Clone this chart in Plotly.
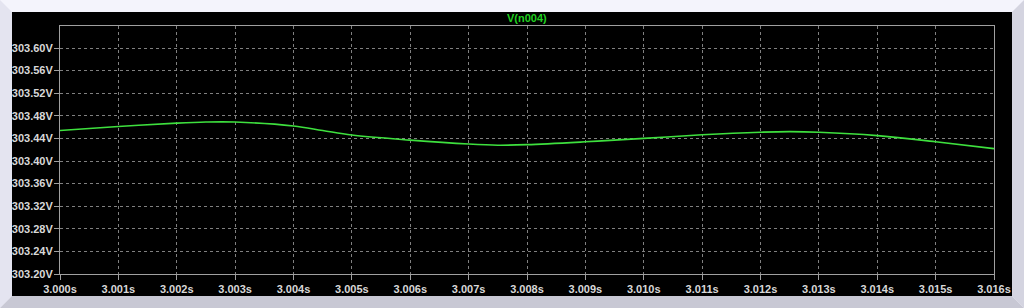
import plotly.graph_objects as go

# ---- data ----
time_s = [3.000, 3.001, 3.002, 3.0025, 3.003, 3.004, 3.0045, 3.005, 3.006, 3.007,
          3.0075, 3.008, 3.009, 3.010, 3.011, 3.012, 3.0125, 3.013, 3.014, 3.015, 3.016]
v_n004 = [303.454, 303.461, 303.467, 303.469, 303.469, 303.462, 303.454, 303.446, 303.437, 303.430,
          303.428, 303.429, 303.434, 303.440, 303.4465, 303.451, 303.452, 303.451, 303.445, 303.434, 303.422]

x_ticks = [3.000 + 0.001 * i for i in range(17)]
x_tick_labels = ["%.3fs" % v for v in x_ticks]
y_ticks = [303.20 + 0.04 * i for i in range(11)]
y_tick_labels = ["%.2fV" % v for v in y_ticks]
trace_name = "V(n004)"

# ---- geometry ----
W, H = 1024, 308
L, R, T, B = 60, 30, 26, 34
pw, ph = W - L - R, H - T - B


def px(x):
    return (x - L) / pw


def py(y):
    return (H - B - y) / ph


def poly(points, color):
    path = "M " + " L ".join("%f,%f" % (px(a), py(b)) for a, b in points) + " Z"
    return dict(type="path", xref="paper", yref="paper", path=path,
                fillcolor=color, line=dict(width=0), layer="below")


shapes = [
    poly([(0, 0), (12, 12), (12, 296), (0, 308)], "#e4e4f0"),
    poly([(0, 308), (12, 296), (1012, 296), (1024, 308)], "#c8c8d4"),
    poly([(1024, 0), (1012, 12), (1012, 296), (1024, 308)], "#d4d4e0"),
    poly([(12, 12), (1012, 12), (1012, 296), (12, 296)], "#000000"),
]

fig = go.Figure()
fig.add_trace(go.Scatter(
    x=time_s, y=v_n004, mode="lines", name=trace_name,
    line=dict(color="#3ee03e", width=1.6, shape="spline", smoothing=1.0),
    hoverinfo="x+y", showlegend=False,
))

tick_font = dict(family="Liberation Sans", size=11, color="#d8d8d8", weight="bold")

fig.update_layout(
    width=W, height=H,
    margin=dict(l=L, r=R, t=T, b=B, pad=0),
    paper_bgcolor="#f4f4fc",
    plot_bgcolor="#000000",
    shapes=shapes,
    annotations=[dict(
        text=trace_name, xref="paper", yref="paper",
        x=0.5, y=py(18), xanchor="center", yanchor="middle",
        showarrow=False,
        font=dict(family="Liberation Sans", size=11, color="#20d020", weight="bold"),
    )],
    xaxis=dict(
        range=[3.000, 3.016], tickvals=x_ticks, ticktext=x_tick_labels,
        showgrid=True, gridcolor="#808080", griddash="3px,3px", gridwidth=1,
        showline=True, linecolor="#a0a0a0", linewidth=1, mirror=True,
        ticks="outside", ticklen=5, tickcolor="#a0a0a0", tickwidth=1,
        tickfont=tick_font, zeroline=False,
    ),
    yaxis=dict(
        range=[303.20, 303.639], tickvals=y_ticks, ticktext=y_tick_labels,
        showgrid=True, gridcolor="#808080", griddash="3px,3px", gridwidth=1,
        showline=True, linecolor="#a0a0a0", linewidth=1, mirror=True,
        ticks="outside", ticklen=5, tickcolor="#a0a0a0", tickwidth=1,
        tickfont=tick_font, zeroline=False, ticklabelstandoff=-1,
    ),
)

fig.write_html("out.html")
